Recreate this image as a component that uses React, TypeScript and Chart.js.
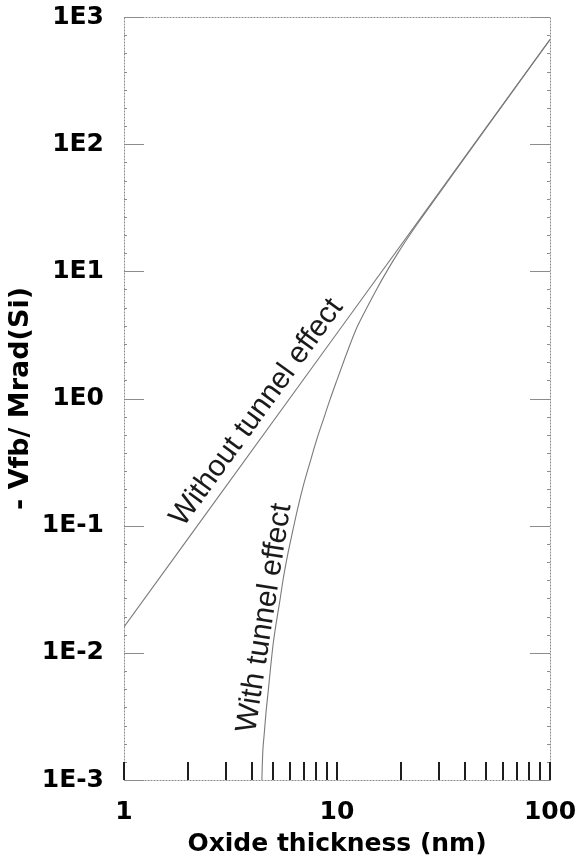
import { useEffect, useRef } from "react";
import { Chart, registerables } from "chart.js";

Chart.register(...registerables);

// Flat-band voltage shift per Mrad(Si) versus oxide thickness (nm), no tunnel annealing
const thicknessNoTunnel = [1, 10, 100];
const shiftNoTunnel = [0.016, 3.26, 665];

// Same quantity when tunnel annealing of trapped holes is included
const thicknessTunnel = [
  4.42, 4.44, 4.48, 4.54, 4.64, 4.76, 4.88, 5.02, 5.21, 5.4, 5.58, 5.89, 6.21, 6.56,
  6.92, 7.47, 8.03, 8.62, 9.27, 10.0, 10.9, 12.2, 13.5, 15.4, 17.4, 19.3, 20.9, 24, 30,
  50, 100,
];
const shiftTunnel = [
  0.0006, 0.001, 0.00163, 0.00218, 0.00337, 0.0051, 0.00774, 0.0119, 0.0181, 0.0261,
  0.0374, 0.061, 0.0925, 0.14, 0.201, 0.315, 0.475, 0.68, 0.98, 1.4, 2.08, 3.4, 4.8,
  7.3, 10.45, 13.9, 17.1, 24.0, 40.4, 133, 665,
];

// Axis ticks
const xMajorTicks = [1, 10, 100];
const xMajorLabels = ["1", "10", "100"];
const xMinorTicks = [2, 3, 4, 5, 6, 7, 8, 9, 20, 30, 40, 50, 60, 70, 80, 90];
const yMajorTicks = [1e-3, 1e-2, 1e-1, 1, 10, 100, 1000];
const yMajorLabels = ["1E-3", "1E-2", "1E-1", "1E0", "1E1", "1E2", "1E3"];
const yMinorSteps = 7;

// In-plot curve captions, anchored in data coordinates
const captionTexts = ["Without tunnel effect", "With tunnel effect"];
const captionX = [4.2, 4.57];
const captionY = [0.776, 0.0188];

const boldFont = { family: "'DejaVu Sans', sans-serif", size: 25, weight: "bold" as const };

const noBoxPadding = (s: any) => {
  s.paddingLeft = 0;
  s.paddingRight = 0;
  s.paddingTop = 0;
  s.paddingBottom = 0;
};

const framePlugin = {
  id: "frameAndCaptions",
  afterDraw(chart: any) {
    const { ctx, chartArea, scales } = chart;
    const { left, right, top, bottom } = chartArea;
    const x = scales.x;
    const y = scales.y;
    ctx.save();

    // plot frame
    ctx.lineWidth = 1;
    ctx.strokeStyle = "#8c8c8c";
    ctx.setLineDash([2, 1]);
    ctx.strokeRect(left + 0.5, top + 0.5, right - left, bottom - top);
    ctx.setLineDash([]);

    // y major ticks, inward on both sides
    for (const v of yMajorTicks) {
      const py = Math.round(y.getPixelForValue(v)) + 0.5;
      ctx.beginPath();
      ctx.moveTo(left, py);
      ctx.lineTo(left + 20, py);
      ctx.moveTo(right, py);
      ctx.lineTo(right - 20, py);
      ctx.stroke();
    }
    // y minor ticks
    for (let d = 0; d < yMajorTicks.length - 1; d++) {
      const lo = Math.log10(yMajorTicks[d]);
      for (let k = 1; k < yMinorSteps; k++) {
        const py = Math.round(y.getPixelForValue(Math.pow(10, lo + k / yMinorSteps))) + 0.5;
        ctx.beginPath();
        ctx.moveTo(left, py);
        ctx.lineTo(left + 3, py);
        ctx.moveTo(right, py);
        ctx.lineTo(right - 3, py);
        ctx.stroke();
      }
    }

    // x ticks along the bottom, pointing up
    ctx.strokeStyle = "#1e1e1e";
    ctx.lineWidth = 2;
    for (const v of [...xMajorTicks, ...xMinorTicks]) {
      const px = Math.round(x.getPixelForValue(v));
      ctx.beginPath();
      ctx.moveTo(px, bottom);
      ctx.lineTo(px, bottom - 18);
      ctx.stroke();
    }

    // captions laid along their curves
    const seriesAngle = (ds: number, i: number, j: number) => {
      const pts = chart.getDatasetMeta(ds).data;
      return Math.atan2(pts[j].y - pts[i].y, pts[j].x - pts[i].x);
    };
    const angles = [seriesAngle(0, 0, 2), seriesAngle(1, 3, 14)];
    ctx.fillStyle = "#1a1a1a";
    ctx.font = "30px 'Liberation Sans', Arial, sans-serif";
    ctx.textAlign = "center";
    ctx.textBaseline = "middle";
    captionTexts.forEach((t, i) => {
      ctx.save();
      ctx.translate(x.getPixelForValue(captionX[i]), y.getPixelForValue(captionY[i]));
      ctx.rotate(angles[i]);
      ctx.fillText(t, 0, 0);
      ctx.restore();
    });

    ctx.restore();
  },
};

export default function App() {
  const canvasRef = useRef<HTMLCanvasElement | null>(null);

  useEffect(() => {
    const canvas = canvasRef.current;
    if (!canvas) return;
    const lineStyle = {
      borderColor: "#7a7a7a",
      borderWidth: 1.1,
      pointRadius: 0,
      fill: false,
      cubicInterpolationMode: "monotone" as const,
    };
    const chart = new Chart(canvas, {
      type: "line",
      data: {
        datasets: [
          {
            label: "Without tunnel effect",
            data: thicknessNoTunnel.map((t, i) => ({ x: t, y: shiftNoTunnel[i] })),
            ...lineStyle,
          },
          {
            label: "With tunnel effect",
            data: thicknessTunnel.map((t, i) => ({ x: t, y: shiftTunnel[i] })),
            ...lineStyle,
          },
        ],
      },
      options: {
        animation: false,
        responsive: false,
        devicePixelRatio: 1,
        layout: { padding: { top: 17, right: 29, left: 0, bottom: 0 } },
        plugins: { legend: { display: false }, tooltip: { enabled: false } },
        scales: {
          x: {
            type: "logarithmic",
            min: 1,
            max: 100,
            grid: { display: false },
            border: { display: false },
            afterBuildTicks: (s: any) => {
              s.ticks = xMajorTicks.map((value) => ({ value }));
            },
            afterFit: (s: any) => {
              s.height = 81;
              noBoxPadding(s);
            },
            ticks: {
              autoSkip: false,
              maxRotation: 0,
              padding: 9,
              color: "#000",
              font: boldFont,
              callback: (_v: any, i: number) => xMajorLabels[i],
            },
            title: {
              display: true,
              text: "Oxide thickness (nm)",
              color: "#000",
              font: boldFont,
              padding: { top: 0, bottom: 2 },
            },
          },
          y: {
            type: "logarithmic",
            min: 1e-3,
            max: 1e3,
            grid: { display: false },
            border: { display: false },
            afterBuildTicks: (s: any) => {
              s.ticks = yMajorTicks.map((value) => ({ value }));
            },
            afterFit: (s: any) => {
              s.width = 124;
              noBoxPadding(s);
            },
            ticks: {
              autoSkip: false,
              padding: 12,
              color: "#000",
              font: boldFont,
              callback: (_v: any, i: number) => yMajorLabels[i],
            },
            title: {
              display: true,
              text: "- Vfb/ Mrad(Si)",
              color: "#000",
              font: { ...boldFont, size: 27 },
              padding: { top: 5, bottom: 0 },
            },
          },
        },
      },
      plugins: [framePlugin],
    });
    return () => chart.destroy();
  }, []);

  return (
    <canvas
      ref={canvasRef}
      width={579}
      height={861}
      style={{ position: "fixed", left: 0, top: 0, display: "block", background: "#fff" }}
    />
  );
}
